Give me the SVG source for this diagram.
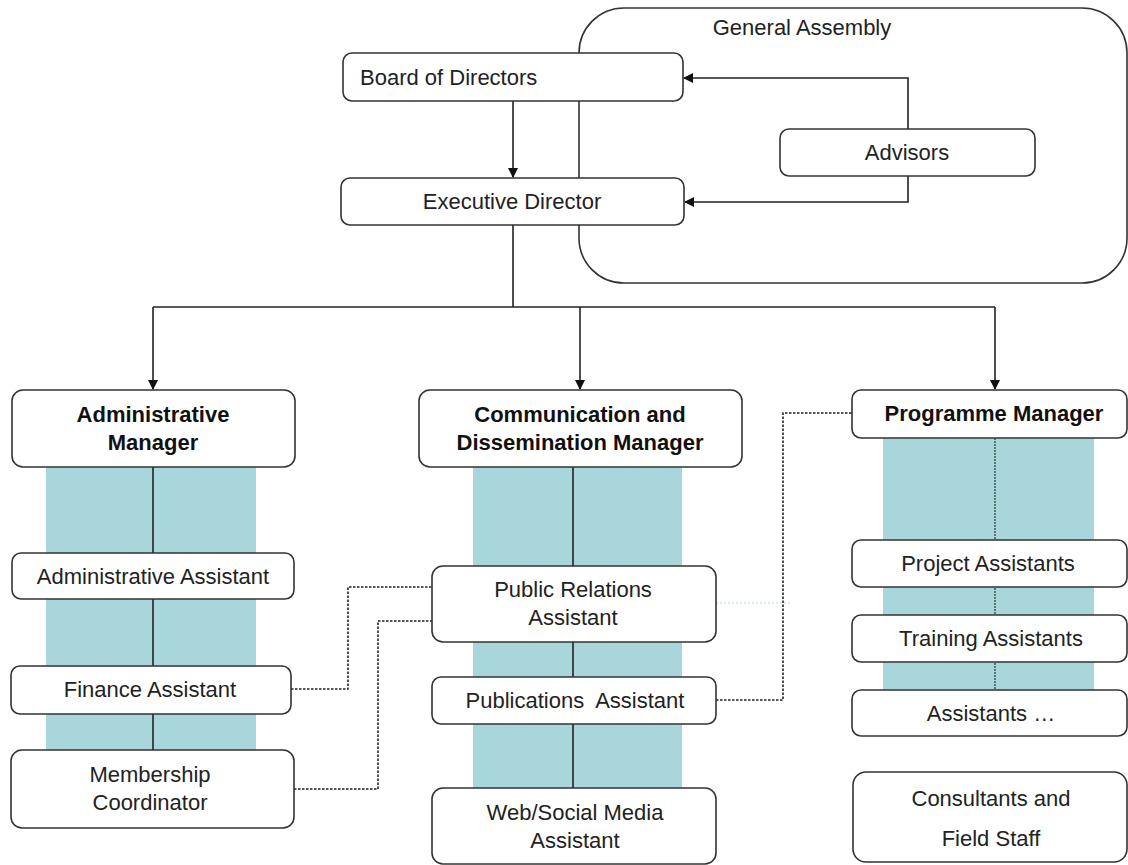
<svg xmlns="http://www.w3.org/2000/svg" width="1128" height="865" viewBox="0 0 1128 865">
<style>
.box{fill:#fff;stroke:#333;stroke-width:1.6}
.t{font-family:"Liberation Sans",Arial,sans-serif;font-size:22px;fill:#222;text-anchor:middle}
.b{font-weight:bold;fill:#111}
.col{fill:#a8d6da}
.ln{fill:none;stroke:#222;stroke-width:1.6}
.dash{fill:none;stroke:#222;stroke-width:1.6;stroke-dasharray:2.5 1.5}
</style>
<defs>
<marker id="ah" markerWidth="10" markerHeight="10" refX="9" refY="5" orient="auto" markerUnits="userSpaceOnUse">
<path d="M0,0 L10,5 L0,10 Z" fill="#111"/>
</marker>
</defs>
<rect width="1128" height="865" fill="#fff"/>
<g id="general-assembly">
<rect x="579" y="8" width="548" height="275" rx="45" fill="#fff" stroke="#333" stroke-width="1.6"/>
<text class="t" x="802" y="35">General Assembly</text>
</g>
<g id="columns">
<rect class="col" x="46" y="467" width="210" height="283"/>
<rect class="col" x="473" y="467" width="209" height="321"/>
<rect class="col" x="883" y="438" width="211" height="252"/>
</g>
<g id="connectors">
<path class="ln" d="M513,101 V177" marker-end="url(#ah)"/>
<path class="ln" d="M908,129 V78 H684" marker-end="url(#ah)"/>
<path class="ln" d="M908,176 V202 H685" marker-end="url(#ah)"/>
<path class="ln" d="M513,225 V307"/>
<path class="ln" d="M153,307 H995"/>
<path class="ln" d="M153,307 V389" marker-end="url(#ah)"/>
<path class="ln" d="M580,307 V389" marker-end="url(#ah)"/>
<path class="ln" d="M995,307 V389" marker-end="url(#ah)"/>
<path class="ln" d="M153,467 V750"/>
<path class="ln" d="M573,467 V788"/>
<path d="M995,438 V690" fill="none" stroke="#333" stroke-width="1.2" stroke-dasharray="2 1"/>
<path class="dash" d="M291,689 H348 V587 H432"/>
<path class="dash" d="M294,789 H378 V621 H432"/>
<path class="dash" d="M716,700 H783 V413 H852"/>
<path d="M716,603 H790" fill="none" stroke="#b5dcdc" stroke-width="1.2" stroke-dasharray="2 2"/>
</g>
<g id="board-of-directors">
<rect class="box" x="343" y="53" width="340" height="48" rx="9"/>
<text class="t" x="360" y="85" style="text-anchor:start">Board of Directors</text>
</g>
<g id="executive-director">
<rect class="box" x="341" y="178" width="343" height="47" rx="9"/>
<text class="t" x="512" y="209">Executive Director</text>
</g>
<g id="advisors">
<rect class="box" x="780" y="129" width="255" height="47" rx="9"/>
<text class="t" x="907" y="160">Advisors</text>
</g>
<g id="administrative-manager">
<rect class="box" x="12" y="390" width="283" height="77" rx="11"/>
<text class="t b" x="153" y="422">Administrative</text>
<text class="t b" x="153" y="450">Manager</text>
</g>
<g id="communication-manager">
<rect class="box" x="419" y="390" width="323" height="77" rx="11"/>
<text class="t b" x="580" y="422">Communication and</text>
<text class="t b" x="580" y="450">Dissemination Manager</text>
</g>
<g id="programme-manager">
<rect class="box" x="852" y="390" width="275" height="48" rx="9"/>
<text class="t b" x="994" y="421">Programme Manager</text>
</g>
<g id="administrative-assistant">
<rect class="box" x="12" y="553" width="282" height="46" rx="9"/>
<text class="t" x="153" y="584">Administrative Assistant</text>
</g>
<g id="finance-assistant">
<rect class="box" x="11" y="666" width="280" height="48" rx="9"/>
<text class="t" x="150" y="697">Finance Assistant</text>
</g>
<g id="membership-coordinator">
<rect class="box" x="11" y="750" width="283" height="78" rx="11"/>
<text class="t" x="150" y="782">Membership</text>
<text class="t" x="150" y="810">Coordinator</text>
</g>
<g id="public-relations-assistant">
<rect class="box" x="432" y="566" width="284" height="76" rx="11"/>
<text class="t" x="573" y="597">Public Relations</text>
<text class="t" x="573" y="625">Assistant</text>
</g>
<g id="publications-assistant">
<rect class="box" x="432" y="677" width="284" height="47" rx="9"/>
<text class="t" x="575" y="708" xml:space="preserve">Publications  Assistant</text>
</g>
<g id="web-social-media-assistant">
<rect class="box" x="432" y="788" width="284" height="76" rx="11"/>
<text class="t" x="575" y="820">Web/Social Media</text>
<text class="t" x="575" y="848">Assistant</text>
</g>
<g id="project-assistants">
<rect class="box" x="852" y="540" width="275" height="47" rx="9"/>
<text class="t" x="988" y="571">Project Assistants</text>
</g>
<g id="training-assistants">
<rect class="box" x="852" y="615" width="275" height="47" rx="9"/>
<text class="t" x="991" y="646">Training Assistants</text>
</g>
<g id="assistants-more">
<rect class="box" x="852" y="690" width="275" height="46" rx="9"/>
<text class="t" x="991" y="721">Assistants …</text>
</g>
<g id="consultants-field-staff">
<rect class="box" x="853" y="772" width="274" height="90" rx="13"/>
<text class="t" x="991" y="806">Consultants and</text>
<text class="t" x="991" y="846">Field Staff</text>
</g>
</svg>
